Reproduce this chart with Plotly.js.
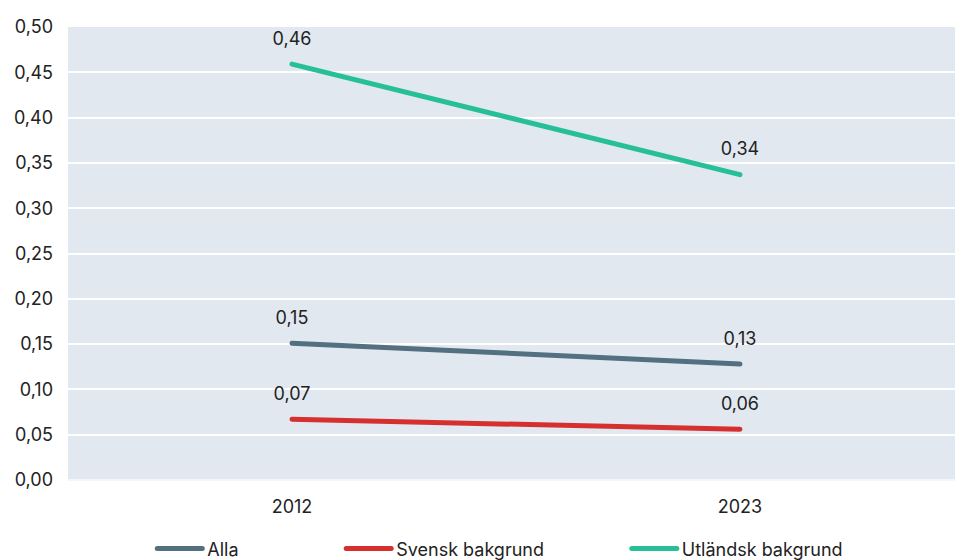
<!DOCTYPE html>
<html>
<head>
<meta charset="utf-8">
<script src="https://cdn.plot.ly/plotly-3.0.1.min.js"></script>
<style>html,body{margin:0;padding:0;background:#fff}#chart{width:955px;height:560px}
#chart path.js-line{stroke-linecap:round !important}</style>
</head>
<body>
<div id="chart"></div>
<script>
var years = ['2012', '2023'];
var alla = [0.151, 0.128];
var svensk = [0.067, 0.056];
var utlandsk = [0.459, 0.337];
var names = ['Alla', 'Svensk bakgrund', 'Utländsk bakgrund'];
var colors = ['#52707f', '#d6302e', '#26bf98'];
var series = [alla, svensk, utlandsk];
var legends = ['legend', 'legend2', 'legend3'];

var fam = 'Inter, "Noto Sans", sans-serif';
var font = {family: fam, size: 18, color: '#222'};

var traces = [];
series.forEach(function (s, i) {
  traces.push({
    x: years, y: s, name: names[i], type: 'scatter', mode: 'lines',
    line: {color: colors[i], width: 5},
    hoverinfo: 'skip', legend: legends[i]
  });
});
series.forEach(function (s, i) {
  traces.push({
    x: years, y: s, name: names[i], type: 'scatter', mode: 'markers+text',
    marker: {size: 22, opacity: 0, color: colors[i]},
    texttemplate: '%{y:.2f}', textposition: 'top center',
    textfont: {family: fam, size: 18, color: '#222'},
    hoverinfo: 'skip', cliponaxis: false, showlegend: false
  });
});

function leg(x) {
  return {orientation: 'h', x: x, y: -0.152, xanchor: 'left', yanchor: 'middle',
    font: {family: fam, size: 18, color: '#222'}, itemwidth: 45,
    bgcolor: 'rgba(0,0,0,0)'};
}

var layout = {
  width: 955, height: 560,
  margin: {l: 68, r: 0, t: 27, b: 80, autoexpand: false},
  paper_bgcolor: '#ffffff', plot_bgcolor: '#e1e8f0',
  separators: ', ',
  font: font,
  showlegend: true,
  legend: leg(0.095), legend2: leg(0.308), legend3: leg(0.630),
  xaxis: {type: 'category', range: [-0.5, 1.48], showgrid: false, zeroline: false,
    ticks: '', showline: false, tickfont: font, ticklabelstandoff: 14, automargin: false},
  yaxis: {range: [0, 0.5], dtick: 0.05, tickformat: '.2f', gridcolor: '#ffffff', gridwidth: 2,
    zeroline: true, zerolinecolor: '#f4f7fa', zerolinewidth: 2, ticks: '', showline: false,
    tickfont: font, ticklabelstandoff: 14, automargin: false}
};

Plotly.newPlot('chart', traces, layout, {displayModeBar: false, staticPlot: true});
</script>
</body>
</html>
